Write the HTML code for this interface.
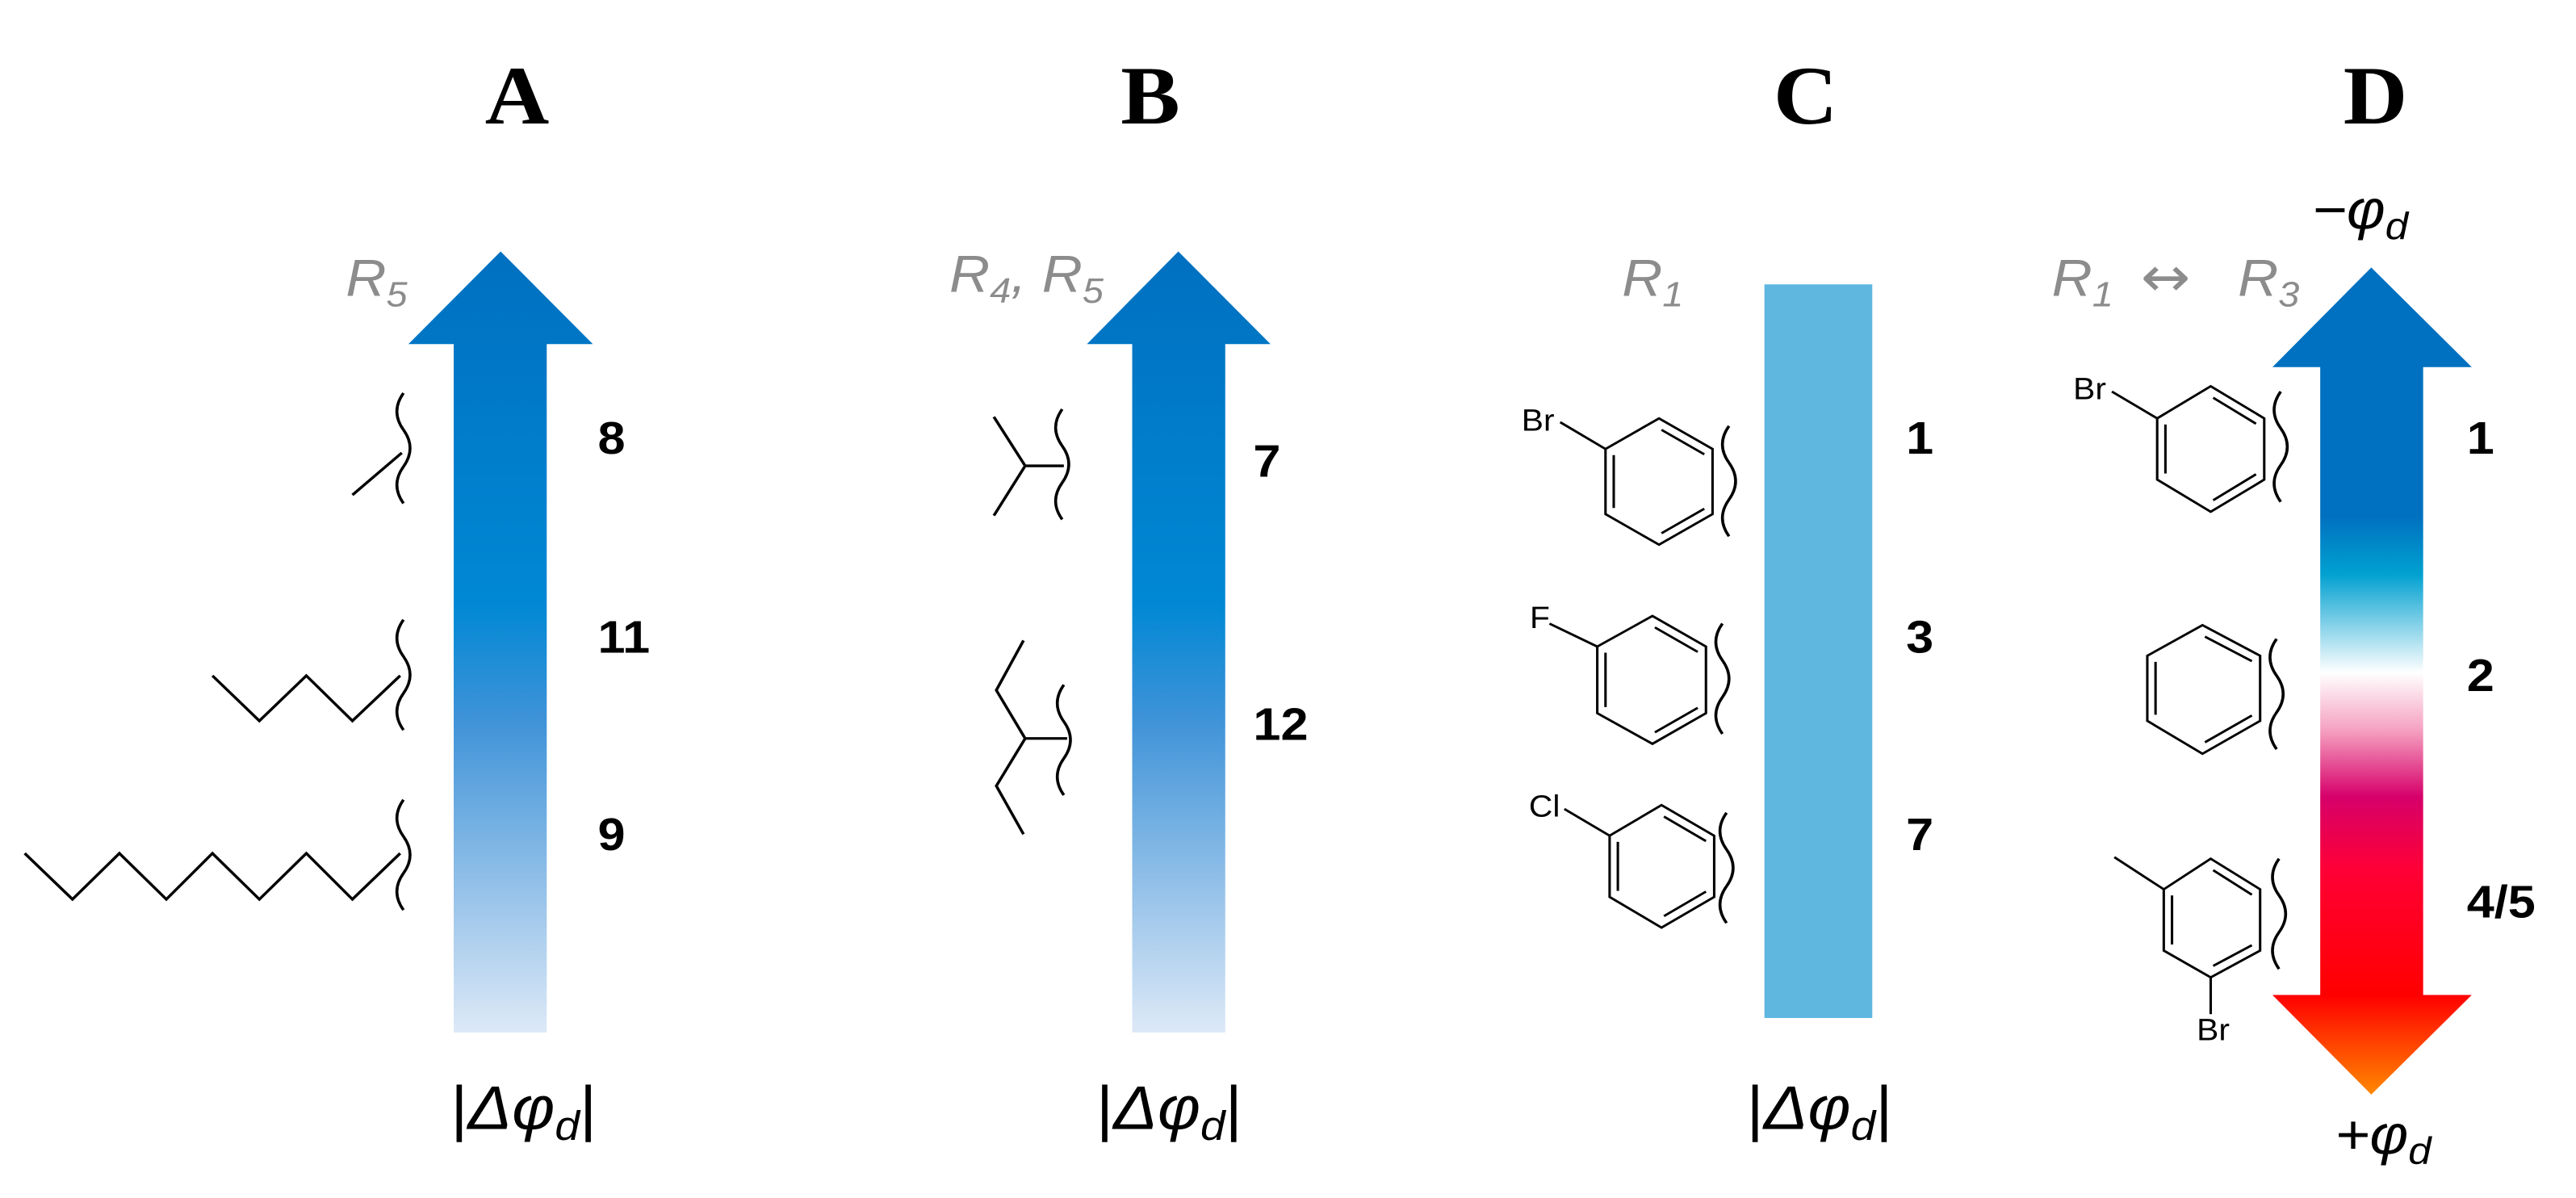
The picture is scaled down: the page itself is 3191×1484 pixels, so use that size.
<!DOCTYPE html>
<html><head><meta charset="utf-8"><style>html,body{margin:0;padding:0;background:#fff}svg{display:block}</style></head>
<body>
<svg width="3191" height="1484" viewBox="0 0 3191 1484" xmlns="http://www.w3.org/2000/svg">
<defs>
<linearGradient id="gA" x1="0" y1="0" x2="0" y2="1">
<stop offset="0" stop-color="#0070c0"/><stop offset="0.45" stop-color="#0088d4"/><stop offset="0.6" stop-color="#3f93d8"/><stop offset="1" stop-color="#dde9f7"/>
</linearGradient>
<linearGradient id="gD" x1="0" y1="343" x2="0" y2="1423" gradientUnits="userSpaceOnUse">
<stop offset="0" stop-color="#0070c0"/><stop offset="0.3" stop-color="#0070c0"/><stop offset="0.37" stop-color="#00a0d0"/><stop offset="0.49" stop-color="#ffffff"/><stop offset="0.56" stop-color="#f5a0c0"/><stop offset="0.64" stop-color="#d6006a"/><stop offset="0.73" stop-color="#ff0035"/><stop offset="0.88" stop-color="#ff0000"/><stop offset="1" stop-color="#ff8800"/>
</linearGradient>
<path id="wv" d="M0,0 q-16,24 0,48 q16,24 0,48 q-16,24 0,48" fill="none" stroke="#000" stroke-width="3.5"/>
</defs>
<g font-family="Liberation Sans, sans-serif" transform="translate(0,6) scale(1,0.93)">
<g transform="scale(1.02)">
<text x="628" y="155" font-family="Liberation Serif, serif" font-weight="bold" font-size="108" text-anchor="middle">A</text>
<text x="1397" y="155" font-family="Liberation Serif, serif" font-weight="bold" font-size="108" text-anchor="middle">B</text>
<polygon points="608,322 720,443 664,443 664,1342 551,1342 551,443 496,443" fill="url(#gA)"/>
<polygon points="1431,322 1543,443 1488,443 1488,1342 1375,1342 1375,443 1320,443" fill="url(#gA)"/>
<text x="420" y="380" font-size="68" font-style="italic" fill="#8c8c8c">R<tspan font-size="46" dy="14">5</tspan></text>
<text x="1153" y="375" font-size="68" font-style="italic" fill="#8c8c8c">R<tspan font-size="46" dy="14">4</tspan><tspan dy="-14">, R</tspan><tspan font-size="46" dy="14">5</tspan></text>
<g font-weight="bold" font-size="60">
<text x="726" y="586">8</text><text x="726" y="846">11</text><text x="726" y="1104">9</text>
<text x="1522" y="616">7</text><text x="1522" y="960">12</text>
</g>
<text x="636" y="1468" font-size="80" text-anchor="middle">|<tspan font-style="italic">Δφ</tspan><tspan font-style="italic" font-size="54" dy="14">d</tspan><tspan dy="-14">|</tspan></text>
<text x="1420" y="1468" font-size="80" text-anchor="middle">|<tspan font-style="italic">Δφ</tspan><tspan font-style="italic" font-size="54" dy="14">d</tspan><tspan dy="-14">|</tspan></text>
<g fill="none" stroke="#000" stroke-width="3.5">
<line x1="428" y1="640" x2="488" y2="585"/>
<polyline points="258,876 315,935 372,876 428,935 486,876"/>
<polyline points="30,1108 88,1168 145,1108 202,1168 258,1108 315,1168 372,1108 428,1168 486,1108"/>
<polyline points="1207,538 1245,602 1207,667"/><line x1="1245" y1="602" x2="1292" y2="602"/>
<polyline points="1243,830 1210,895 1245,958 1210,1020 1243,1083"/><line x1="1245" y1="958" x2="1296" y2="958"/>
</g>
<use href="#wv" transform="translate(490,507)"/>
<use href="#wv" transform="translate(490,803)"/>
<use href="#wv" transform="translate(490,1038)"/>
<use href="#wv" transform="translate(1290,528)"/>
<use href="#wv" transform="translate(1292,888)"/>
</g>
<g transform="translate(1591,0) scale(1.02)">
<text x="633" y="155" font-family="Liberation Serif, serif" font-weight="bold" font-size="108" text-anchor="middle">C</text>
<text x="1325" y="155" font-family="Liberation Serif, serif" font-weight="bold" font-size="108" text-anchor="middle">D</text>
<rect x="583" y="365" width="131" height="958" fill="#5fb7e0"/>
<text x="410" y="380" font-size="68" font-style="italic" fill="#8c8c8c">R<tspan font-size="46" dy="14">1</tspan></text>
<text x="932" y="380" font-size="68" font-style="italic" fill="#8c8c8c">R<tspan font-size="46" dy="14">1</tspan></text>
<text x="1040" y="380" font-size="72" font-family="DejaVu Sans, sans-serif" fill="#8c8c8c">↔</text>
<text x="1158" y="380" font-size="68" font-style="italic" fill="#8c8c8c">R<tspan font-size="46" dy="14">3</tspan></text>
<polygon points="1320,343 1442,473 1383,473 1383,1293 1442,1293 1320,1423 1200,1293 1258,1293 1258,473 1200,473" fill="url(#gD)"/>
<text x="1248" y="292" font-size="72" font-style="italic">−φ<tspan font-size="50" dy="14">d</tspan></text>
<text x="1276" y="1500" font-size="72" font-style="italic">+φ<tspan font-size="50" dy="14">d</tspan></text>
<g font-weight="bold" font-size="60">
<text x="755" y="586">1</text><text x="755" y="846">3</text><text x="755" y="1104">7</text>
<text x="1436" y="586">1</text><text x="1436" y="896">2</text><text x="1436" y="1192">4/5</text>
</g>
<text x="650" y="1468" font-size="80" text-anchor="middle">|<tspan font-style="italic">Δφ</tspan><tspan font-style="italic" font-size="54" dy="14">d</tspan><tspan dy="-14">|</tspan></text>
<g font-size="40" fill="#000">
<text x="288" y="556">Br</text><text x="298" y="814">F</text><text x="297" y="1060">Cl</text>
<text x="958" y="515">Br</text><text x="1108" y="1352">Br</text>
</g>
<g fill="none" stroke="#000" stroke-width="3">
<polygon points="390,580 455,540 520,580 520,665 455,705 390,665"/>
<line x1="400" y1="588" x2="400" y2="657"/><line x1="458" y1="555" x2="510" y2="587"/><line x1="458" y1="690" x2="510" y2="658"/>
<line x1="335" y1="545" x2="390" y2="580"/>
<polygon points="380,838 447,798 512,838 512,925 447,965 380,925"/>
<line x1="390" y1="846" x2="390" y2="917"/><line x1="450" y1="813" x2="502" y2="845"/><line x1="450" y1="950" x2="502" y2="918"/>
<line x1="322" y1="808" x2="380" y2="838"/>
<polygon points="395,1085 458,1045 522,1085 522,1165 458,1205 395,1165"/>
<line x1="405" y1="1093" x2="405" y2="1157"/><line x1="461" y1="1060" x2="512" y2="1092"/><line x1="461" y1="1190" x2="512" y2="1158"/>
<line x1="340" y1="1050" x2="395" y2="1085"/>
<polygon points="1060,540 1125,498 1190,540 1190,620 1125,662 1060,620"/>
<line x1="1070" y1="548" x2="1070" y2="612"/><line x1="1128" y1="513" x2="1180" y2="547"/><line x1="1128" y1="647" x2="1180" y2="613"/>
<line x1="1005" y1="505" x2="1060" y2="540"/>
<polygon points="1048,850 1115,810 1185,850 1185,935 1115,978 1048,935"/>
<line x1="1058" y1="858" x2="1058" y2="927"/><line x1="1118" y1="825" x2="1175" y2="857"/><line x1="1118" y1="963" x2="1175" y2="928"/>
<polygon points="1068,1155 1125,1115 1185,1155 1185,1235 1125,1270 1068,1235"/>
<line x1="1078" y1="1163" x2="1078" y2="1227"/><line x1="1128" y1="1130" x2="1175" y2="1162"/><line x1="1128" y1="1255" x2="1175" y2="1228"/>
<line x1="1008" y1="1113" x2="1068" y2="1155"/><line x1="1125" y1="1270" x2="1125" y2="1318"/>
</g>
<use href="#wv" transform="translate(540,550)"/>
<use href="#wv" transform="translate(532,808)"/>
<use href="#wv" transform="translate(537,1055)"/>
<use href="#wv" transform="translate(1210,505)"/>
<use href="#wv" transform="translate(1205,828)"/>
<use href="#wv" transform="translate(1208,1115)"/>
</g>
</g>
</svg>
</body></html>
